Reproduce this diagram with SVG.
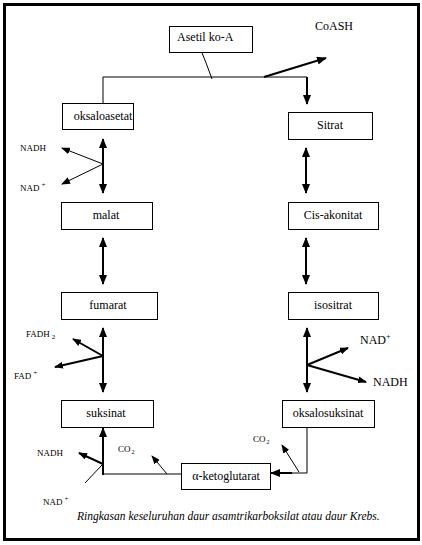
<svg xmlns="http://www.w3.org/2000/svg" width="422" height="545" viewBox="0 0 422 545">
<defs>
<marker id="ah" markerUnits="userSpaceOnUse" markerWidth="10" markerHeight="8" refX="9" refY="4" orient="auto-start-reverse" viewBox="0 0 10 8">
<path d="M0,0 L10,4 L0,8 Z" fill="#000"/>
</marker>
<marker id="ahs" markerUnits="userSpaceOnUse" markerWidth="9" markerHeight="7" refX="8" refY="3.5" orient="auto-start-reverse" viewBox="0 0 9 7">
<path d="M0,0 L9,3.5 L0,7 Z" fill="#000"/>
</marker>
<style>
.box{fill:#fff;stroke:#000;stroke-width:1}
.lb{font-family:"Liberation Serif","Times New Roman",serif;font-size:12px;fill:#000}
.sm{font-family:"Liberation Serif","Times New Roman",serif;font-size:9px;fill:#000}
.thick{stroke:#000;stroke-width:2;fill:none}
.thin{stroke:#000;stroke-width:1;fill:none}
.cap{font-family:"Liberation Serif","Times New Roman",serif;font-size:11.5px;font-style:italic;fill:#000}
</style>
</defs>
<rect x="0" y="0" width="422" height="545" fill="#fff"/>
<rect x="4.5" y="4.5" width="414" height="535" fill="none" stroke="#000" stroke-width="3"/>

<g id="connectors">
<polyline class="thin" points="103,103 103,77 307,77"/>
<line class="thick" x1="307" y1="77" x2="307" y2="104" marker-end="url(#ah)"/>
<path class="thin" d="M200,48 Q206,62 212,79"/>
<line class="thick" x1="264" y1="77" x2="326" y2="58" marker-end="url(#ah)"/>
<line class="thick" x1="103" y1="139" x2="103" y2="193" marker-start="url(#ah)" marker-end="url(#ah)"/>
<line class="thin" x1="103" y1="164" x2="62" y2="148" marker-end="url(#ahs)"/>
<line class="thin" x1="103" y1="164" x2="62" y2="184" marker-end="url(#ahs)"/>
<line class="thick" x1="103" y1="238" x2="103" y2="284" marker-start="url(#ah)" marker-end="url(#ah)"/>
<line class="thick" x1="103" y1="328" x2="103" y2="392" marker-start="url(#ah)" marker-end="url(#ah)"/>
<line class="thick" x1="103" y1="356" x2="73" y2="339" marker-end="url(#ahs)"/>
<line class="thick" x1="103" y1="356" x2="55" y2="367" marker-end="url(#ahs)"/>
<line class="thick" x1="306" y1="148" x2="306" y2="193" marker-start="url(#ah)" marker-end="url(#ah)"/>
<line class="thick" x1="306" y1="238" x2="306" y2="284" marker-start="url(#ah)" marker-end="url(#ah)"/>
<line class="thick" x1="307" y1="328" x2="307" y2="392" marker-start="url(#ah)" marker-end="url(#ah)"/>
<line class="thick" x1="307" y1="365" x2="348" y2="348" marker-end="url(#ahs)"/>
<line class="thick" x1="307" y1="365" x2="366" y2="382" marker-end="url(#ahs)"/>
<polyline class="thin" points="307,427 307,473 290,473"/>
<line class="thick" x1="292" y1="473" x2="271" y2="473" marker-end="url(#ah)"/>
<line class="thin" x1="299" y1="472" x2="282" y2="445" marker-end="url(#ahs)"/>
<line class="thin" x1="181" y1="474" x2="103" y2="474"/>
<line class="thick" x1="103" y1="475" x2="103" y2="428" marker-end="url(#ah)"/>
<line class="thick" x1="103" y1="464" x2="79" y2="453" marker-end="url(#ahs)"/>
<line class="thin" x1="102" y1="465" x2="85" y2="483"/>
<line class="thin" x1="167" y1="474" x2="152" y2="456" marker-end="url(#ahs)"/>
</g>

<g id="asetil"><rect class="box" x="169.5" y="26.5" width="83" height="26"/><text class="lb" x="177" y="41">Asetil ko-A</text></g>
<g id="coash"><text class="lb" x="315" y="30" font-size="12.5">CoASH</text></g>
<g id="oksaloasetat"><rect class="box" x="62.5" y="103.5" width="71" height="26"/><text class="lb" x="103" y="120" text-anchor="middle">oksaloasetat</text></g>
<g id="sitrat"><rect class="box" x="288.5" y="112.5" width="84" height="27"/><text class="lb" x="330" y="129" text-anchor="middle">Sitrat</text></g>
<g id="malat"><rect class="box" x="61.5" y="202.5" width="91" height="27"/><text class="lb" x="106" y="219" text-anchor="middle">malat</text></g>
<g id="cis"><rect class="box" x="288.5" y="202.5" width="90" height="27"/><text class="lb" x="333" y="219" text-anchor="middle">Cis-akonitat</text></g>
<g id="fumarat"><rect class="box" x="61.5" y="292.5" width="96" height="27"/><text class="lb" x="108" y="309" text-anchor="middle">fumarat</text></g>
<g id="isositrat"><rect class="box" x="288.5" y="292.5" width="90" height="27"/><text class="lb" x="333" y="309" text-anchor="middle">isositrat</text></g>
<g id="suksinat"><rect class="box" x="61.5" y="400.5" width="92" height="27"/><text class="lb" x="106" y="417" text-anchor="middle">suksinat</text></g>
<g id="oksalosuksinat"><rect class="box" x="282.5" y="400.5" width="92" height="27"/><text class="lb" x="328" y="417" text-anchor="middle">oksalosuksinat</text></g>
<g id="aketo"><rect class="box" x="181.5" y="463.5" width="89" height="26"/><text class="lb" x="226" y="480" text-anchor="middle">α-ketoglutarat</text></g>

<g id="labels">
<text class="sm" x="20" y="151">NADH</text>
<text class="sm" x="20" y="191">NAD<tspan font-size="7" dy="-4" dx="2">+</tspan></text>
<text class="sm" x="26" y="337">FADH<tspan font-size="7" dy="2" dx="2">2</tspan></text>
<text class="sm" x="14" y="379">FAD<tspan font-size="7" dy="-4" dx="2">+</tspan></text>
<text class="lb" x="360" y="344">NAD<tspan font-size="8" dy="-5">+</tspan></text>
<text class="lb" x="373" y="386">NADH</text>
<text class="sm" x="253" y="442">CO<tspan font-size="6" dy="2" dx="1">2</tspan></text>
<text class="sm" x="37" y="456">NADH</text>
<text class="sm" x="43" y="505">NAD<tspan font-size="7" dy="-4" dx="2">+</tspan></text>
<text class="sm" x="118" y="452">CO<tspan font-size="6" dy="2" dx="1">2</tspan></text>
</g>
<text class="cap" x="77" y="520">Ringkasan keseluruhan daur asamtrikarboksilat atau daur Krebs.</text>
</svg>
